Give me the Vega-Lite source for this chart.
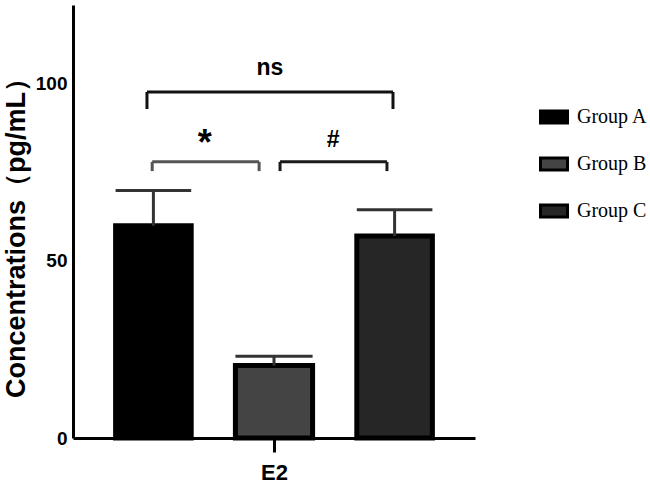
{
  "$schema": "https://vega.github.io/schema/vega-lite/v6.json",
  "width": 402,
  "height": 433,
  "autosize": {"type": "none"},
  "padding": {"left": 73, "top": 5, "right": 175, "bottom": 50},
  "background": "white",
  "config": {"view": {"stroke": null}},
  "datasets": {
    "bars": [
      {"group": "Group A", "x1": 1.06, "x2": 2.94, "c": 2, "mean": 59.8, "err": 69.7},
      {"group": "Group B", "x1": 4.04, "x2": 5.96, "c": 5, "mean": 20.4, "err": 23.0},
      {"group": "Group C", "x1": 7.06, "x2": 8.94, "c": 8, "mean": 56.9, "err": 64.3}
    ],
    "brackets": [
      {"x": 1.84, "x2": 7.96, "y": 97.5, "y2": 97.5, "col": "#111111"},
      {"x": 1.84, "x2": 1.84, "y": 97.5, "y2": 92.7, "col": "#111111"},
      {"x": 7.96, "x2": 7.96, "y": 97.5, "y2": 92.7, "col": "#111111"},
      {"x": 1.97, "x2": 4.63, "y": 77.8, "y2": 77.8, "col": "#555555"},
      {"x": 1.97, "x2": 1.97, "y": 77.8, "y2": 75.2, "col": "#555555"},
      {"x": 4.63, "x2": 4.63, "y": 77.8, "y2": 75.2, "col": "#555555"},
      {"x": 5.15, "x2": 7.81, "y": 77.8, "y2": 77.8, "col": "#1a1a1a"},
      {"x": 5.15, "x2": 5.15, "y": 77.8, "y2": 75.2, "col": "#1a1a1a"},
      {"x": 7.81, "x2": 7.81, "y": 77.8, "y2": 75.2, "col": "#1a1a1a"}
    ],
    "labels": [
      {"x": 4.9, "y": 102.2, "t": "ns", "s": 23},
      {"x": 3.28, "y": 79.7, "t": "*", "s": 36},
      {"x": 6.47, "y": 82.0, "t": "#", "s": 23}
    ]
  },
  "layer": [
    {
      "data": {"name": "bars"},
      "mark": {"type": "bar", "stroke": "black", "strokeWidth": 5},
      "encoding": {
        "x": {
          "field": "x1", "type": "quantitative", "title": null,
          "scale": {"domain": [0, 10], "nice": false, "zero": false},
          "axis": {
            "values": [5], "labelExpr": "'E2'", "title": null, "grid": false,
            "domainColor": "black", "domainWidth": 3,
            "tickColor": "black", "tickWidth": 3, "tickSize": 14,
            "labelFont": "Liberation Sans", "labelFontWeight": "bold", "labelFontSize": 22,
            "labelColor": "black", "labelPadding": 10, "zindex": 1
          }
        },
        "x2": {"field": "x2"},
        "y": {
          "field": "mean", "type": "quantitative", "title": "Concentrations（pg/mL）",
          "scale": {"domain": [0, 122], "nice": false},
          "axis": {
            "values": [0, 50, 100], "grid": false, "ticks": false, "tickSize": 0,
            "domainColor": "black", "domainWidth": 3,
            "labelFont": "Liberation Sans", "labelFontWeight": "bold", "labelFontSize": 19,
            "labelColor": "black", "labelPadding": 6, "zindex": 1,
            "title": "Concentrations（pg/mL）",
            "titleFont": "Liberation Sans", "titleFontWeight": "bold", "titleFontSize": 27,
            "titleColor": "black", "titleX": -57, "titleY": 226,
            "titleAlign": "center", "titleBaseline": "middle", "titleAngle": -90
          }
        },
        "y2": {"datum": 0},
        "fill": {
          "field": "group", "type": "nominal",
          "scale": {"domain": ["Group A", "Group B", "Group C"], "range": ["#000000", "#444444", "#262626"]},
          "legend": {
            "title": null, "orient": "none", "legendX": 471, "legendY": 102,
            "symbolType": "M-1.8,-0.8H1.8V0.8H-1.8Z", "symbolSize": 225,
            "symbolStrokeColor": "black", "symbolStrokeWidth": 3,
            "labelFont": "Liberation Serif", "labelFontSize": 20, "labelColor": "black",
            "labelOffset": 13, "rowPadding": 23
          }
        }
      }
    },
    {
      "data": {"name": "bars"},
      "mark": {"type": "rule", "stroke": "#333333", "strokeWidth": 3},
      "encoding": {
        "x": {"field": "c", "type": "quantitative", "title": null},
        "y": {"field": "mean", "type": "quantitative", "title": "Concentrations（pg/mL）"},
        "y2": {"field": "err"}
      }
    },
    {
      "data": {"name": "bars"},
      "mark": {"type": "rule", "stroke": "#333333", "strokeWidth": 3},
      "encoding": {
        "x": {"field": "x1", "type": "quantitative", "title": null},
        "x2": {"field": "x2"},
        "y": {"field": "err", "type": "quantitative", "title": "Concentrations（pg/mL）"}
      }
    },
    {
      "data": {"name": "brackets"},
      "mark": {"type": "rule", "strokeWidth": 3},
      "encoding": {
        "x": {"field": "x", "type": "quantitative", "title": null},
        "x2": {"field": "x2"},
        "y": {"field": "y", "type": "quantitative", "title": "Concentrations（pg/mL）"},
        "y2": {"field": "y2"},
        "stroke": {"field": "col", "type": "nominal", "scale": null}
      }
    },
    {
      "data": {"name": "labels"},
      "mark": {"type": "text", "font": "Liberation Sans", "fontWeight": "bold", "color": "black", "align": "center", "baseline": "alphabetic"},
      "encoding": {
        "x": {"field": "x", "type": "quantitative", "title": null},
        "y": {"field": "y", "type": "quantitative", "title": "Concentrations（pg/mL）"},
        "text": {"field": "t"},
        "size": {"field": "s", "type": "quantitative", "scale": null}
      }
    }
  ]
}
